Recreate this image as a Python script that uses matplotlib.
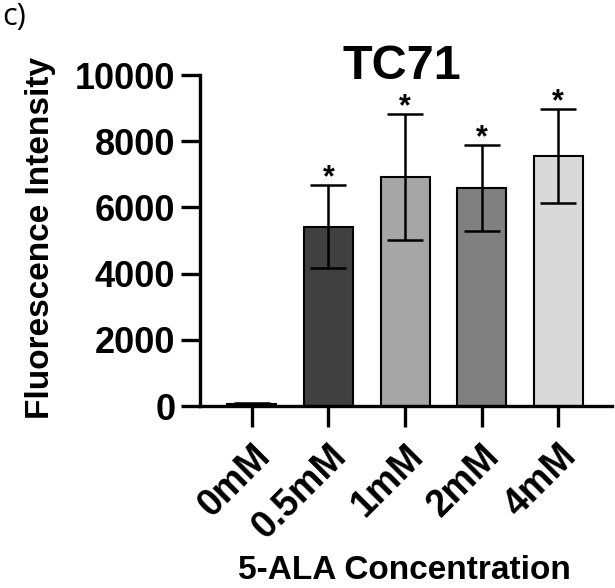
import matplotlib.pyplot as plt
import numpy as np

# data
concentrations = ["0mM", "0.5mM", "1mM", "2mM", "4mM"]
mean_intensity = [60, 5420, 6910, 6590, 7560]
sd_intensity = [30, 1260, 1900, 1300, 1420]
significant = [False, True, True, True, True]
bar_colors = ["#ffffff", "#404040", "#a6a6a6", "#808080", "#d9d9d9"]

plt.rcParams["font.family"] = ["Liberation Sans Narrow", "Liberation Sans", "DejaVu Sans"]
plt.rcParams["font.weight"] = "bold"

fig = plt.figure(figsize=(6.15, 5.88), dpi=100)
ax = fig.add_axes([0.326, 0.3095, 0.669, 0.5629])

x = np.arange(len(concentrations))
ax.bar(x, mean_intensity, width=0.64, color=bar_colors, edgecolor="black",
       linewidth=1.5, zorder=2)
ax.errorbar(x, mean_intensity, yerr=sd_intensity, fmt="none", ecolor="black",
            elinewidth=1.8, capsize=13, capthick=1.8, zorder=3)

# significance stars just above the upper caps
for xi, m, s, sig in zip(x, mean_intensity, sd_intensity, significant):
    if sig:
        ax.annotate("*", (xi, m + s), xytext=(0, -6), textcoords="offset points",
                    ha="center", va="bottom", fontsize=22, fontweight="bold",
                    family=["Liberation Sans", "DejaVu Sans"])

ax.set_xlim(-0.67, 4.7)
ax.set_ylim(0, 10000)
ax.set_yticks([0, 2000, 4000, 6000, 8000, 10000])
ax.set_xticks(x)
ax.set_xticklabels(concentrations, rotation=45, ha="right",
                   rotation_mode="anchor", fontsize=27, fontweight="bold")
ax.tick_params(axis="y", labelsize=26, width=2.4, length=14, pad=4)
ax.tick_params(axis="x", width=2.4, length=15, pad=8)
for lbl in ax.get_yticklabels():
    lbl.set_fontweight("bold")

for side in ["top", "right"]:
    ax.spines[side].set_visible(False)
for side in ["left", "bottom"]:
    ax.spines[side].set_linewidth(2.4)

fig.text(0.653, 0.866, "TC71", fontsize=35, fontweight="bold",
         ha="center", va="baseline")

ax.set_ylabel("Fluorescence Intensity", fontsize=24, fontweight="bold",
              family=["Liberation Sans", "DejaVu Sans"])
ax.yaxis.label.set_va("center")
ax.yaxis.set_label_coords(-0.39, 0.507)

ax.set_xlabel("5-ALA Concentration", fontsize=24, fontweight="bold",
              family=["Liberation Sans", "DejaVu Sans"])
ax.xaxis.label.set_va("baseline")
ax.xaxis.set_label_coords(0.495, -0.522)

fig.text(0.004, 0.996, "c)", fontsize=22, fontweight="normal", va="top",
         family=["Open Sans", "DejaVu Sans"])

fig.savefig("out.png", dpi=100)
